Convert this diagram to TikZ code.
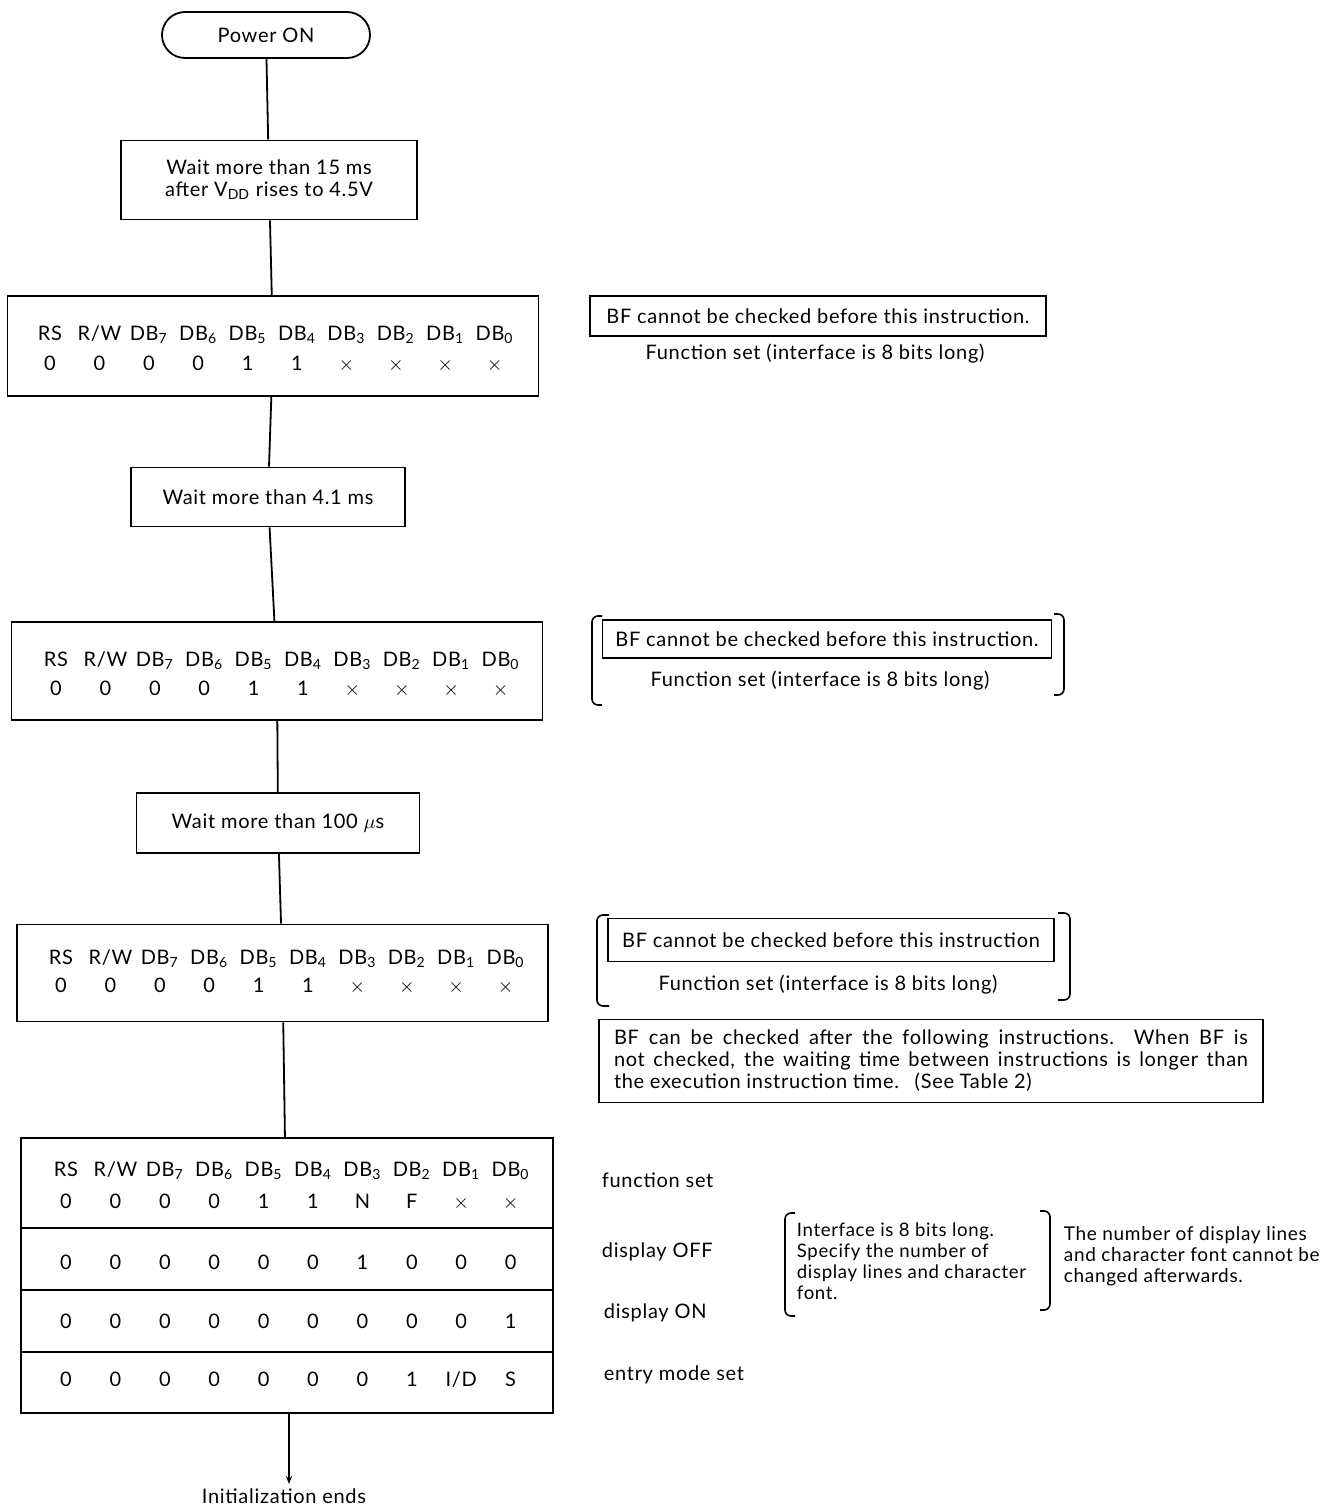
\documentclass[tikz,border=0pt]{standalone}
\usepackage{fontspec}
\setmainfont{Lato}[LetterSpace=3.5]
\usepackage{tikz}
\usetikzlibrary{arrows.meta, positioning}

\begin{document}
\begin{tikzpicture}[x=0.5pt,y=-0.5pt,
		every node/.style={font=\fontsize{10}{11}\selectfont},
		line width=0.9pt,
		startbox/.style={
			draw, rounded corners=11.5pt,
			minimum width=104pt, minimum height=23pt
		},
		waitbox/.style={
			draw, align=center,
			minimum height=29.5pt
		},
		regbox/.style={
			draw, minimum width=265.5pt, minimum height=49pt
		},
		notebox/.style={
			draw, inner xsep=6pt,
			minimum height=20pt
		},
		bit/.style={inner sep=0pt, anchor=base},
		remark/.style={anchor=west, inner sep=0pt},
		smalltext/.style={align=left, inner sep=0pt,
			font=\fontsize{9.3}{10.4}\selectfont},
		brack/.style={rounded corners=3pt, line width=0.8pt}
		]
		
		\def\header{RS,R/W,DB\textsubscript{7},DB\textsubscript{6},DB\textsubscript{5},DB\textsubscript{4},DB\textsubscript{3},DB\textsubscript{2},DB\textsubscript{1},DB\textsubscript{0}}
		\def\fsetbits{0,0,0,0,1,1,$\times$,$\times$,$\times$,$\times$}
		\def\ystep{49.4}
		
		\useasboundingbox (0,0) rectangle (1343,1509);
		
		% start
		\node[startbox] (power) at (266,35) {Power ON};
		
		% first wait
		\node[waitbox, minimum width=148pt, minimum height=39.5pt] (wait1) at (269,180)
		{Wait more than 15 ms\\after V$_{\mathrm{DD}}$ rises to 4.5V};
		
		% function set 1
		\node[regbox, minimum height=50pt] (fset1) at (273,346) {};
		\foreach \t [count=\i] in \header
		\node[bit] at ({50+(\i-1)*\ystep},340) {\t};
		\foreach \t [count=\i] in \fsetbits
		\node[bit] at ({50+(\i-1)*\ystep},370) {\t};
		
		\node[notebox, minimum width=228pt] (note1) at (818,316)
		{BF cannot be checked before this instruction.};
		\node (fs1) at (815,354) {Function set (interface is 8 bits long)};
		
		% second wait
		\node[waitbox, minimum width=137pt] (wait2) at (268,497) {Wait more than 4.1 ms};
		
		% function set 2
		\node[regbox] (fset2) at (277,671) {};
		\foreach \t [count=\i] in \header
		\node[bit] at ({56+(\i-1)*\ystep},666) {\t};
		\foreach \t [count=\i] in \fsetbits
		\node[bit] at ({56+(\i-1)*\ystep},695) {\t};
		
		\node[notebox, minimum width=224.5pt, minimum height=19pt] (note2) at (827,639)
		{BF cannot be checked before this instruction.};
		\node (fs2) at (820,681) {Function set (interface is 8 bits long)};
		\draw[brack] (602,616) -- (592,616) -- (592,705) -- (602,705);
		\draw[brack] (1054,614) -- (1064,614) -- (1064,695) -- (1054,695);
		
		% third wait
		\node[waitbox, minimum width=141.5pt, minimum height=30pt] (wait3) at (278,823)
		{Wait more than 100 $\mu$s};
		
		% function set 3
		\node[regbox, minimum height=48.5pt] (fset3) at (282.5,973) {};
		\foreach \t [count=\i] in \header
		\node[bit] at ({61+(\i-1)*\ystep},964) {\t};
		\foreach \t [count=\i] in \fsetbits
		\node[bit] at ({61+(\i-1)*\ystep},992) {\t};
		
		\node[notebox, minimum width=223pt, minimum height=21.5pt] (note3) at (831,940)
		{BF cannot be checked before this instruction};
		\node (fs3) at (828,985) {Function set (interface is 8 bits long)};
		\draw[brack] (609,915) -- (597,915) -- (597,1006) -- (609,1006);
		\draw[brack] (1058,913) -- (1070,913) -- (1070,1000) -- (1058,1000);
		
		% BF remark
		\node[draw, minimum height=41.5pt, text width=317pt, inner xsep=7.5pt,
		align=left] (note4) at (931,1061)
		{\spaceskip=0.28em plus 3em\relax
			\makebox[317pt][s]{BF can be checked after the following instructions.\ \ When BF is}\\
			\makebox[317pt][s]{not checked, the waiting time between instructions is longer than}\\
			the execution instruction time.~ (See Table 2)};
		
		% instruction table
		\node[draw, minimum width=266pt, minimum height=137.5pt] (init) at (287,1275.5) {};
		\foreach \yy in {1228,1290,1352}
		\draw (init.west |- 0,\yy) -- (init.east |- 0,\yy);
		\foreach \t [count=\i] in \header
		\node[bit] at ({66+(\i-1)*\ystep},1176) {\t};
		\foreach \t [count=\i] in {0,0,0,0,1,1,N,F,$\times$,$\times$}
		\node[bit] at ({66+(\i-1)*\ystep},1208) {\t};
		\foreach \t [count=\i] in {0,0,0,0,0,0,1,0,0,0}
		\node[bit] at ({66+(\i-1)*\ystep},1269) {\t};
		\foreach \t [count=\i] in {0,0,0,0,0,0,0,0,0,1}
		\node[bit] at ({66+(\i-1)*\ystep},1328) {\t};
		\foreach \t [count=\i] in {0,0,0,0,0,0,0,1,I/D,S}
		\node[bit] at ({66+(\i-1)*\ystep},1386) {\t};
		
		% instruction names
		\node[remark] (lfs) at (601,1180) {function set};
		\node[remark] (loff) at (601,1252) {display OFF};
		\node[remark] (lon) at (603,1313) {display ON};
		\node[remark] (lent) at (603,1375) {entry mode set};
		
		% interface remark
		\node[smalltext, anchor=north west] (iface) at (796,1222)
		{Interface is 8 bits long.\\Specify the number of\\display lines and character\\font.};
		\draw[brack] (795,1213) -- (785,1213) -- (785,1316) -- (795,1316);
		\draw[brack] (1040,1211) -- (1050,1211) -- (1050,1310) -- (1040,1310);
		\node[smalltext, anchor=north west, font=\fontsize{9.5}{10.5}\selectfont] (fixed) at (1063,1226)
		{The number of display lines\\and character font cannot be\\changed afterwards.};
		
		% end
		\coordinate (endpt) at (289,1484);
		\node (done) at (284,1496) {Initialization ends};
		
		% connectors
		\draw (power) -- (wait1);
		\draw (wait1) -- (fset1);
		\draw (fset1) -- (wait2);
		\draw (wait2) -- (fset2);
		\draw (fset2) -- (wait3);
		\draw (wait3) -- (fset3);
		\draw (fset3) -- (init);
		\draw[-{Stealth[length=4pt,width=3pt]}] (init.south -| endpt) -- (endpt);
		
	\end{tikzpicture}
\end{document}
